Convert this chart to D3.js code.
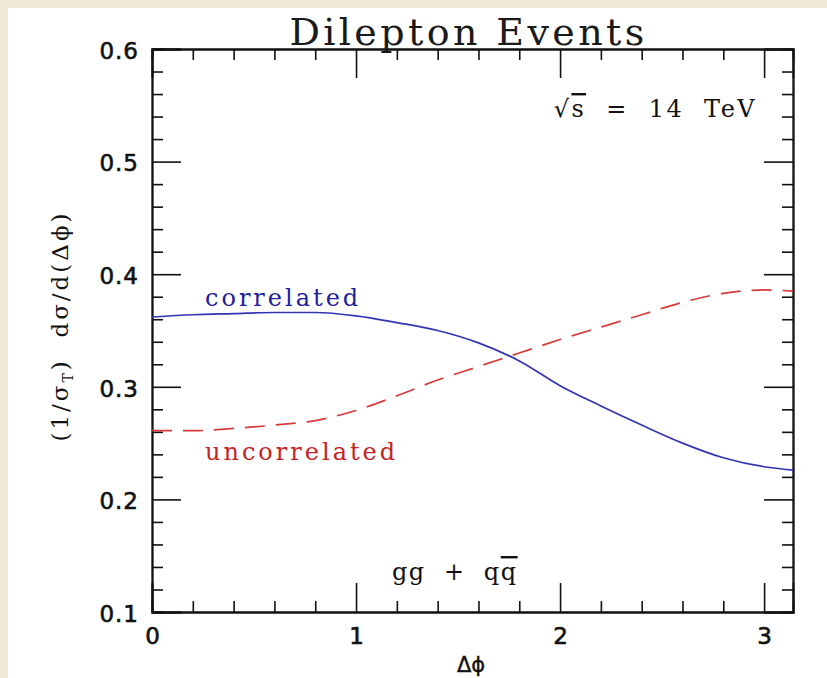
<!DOCTYPE html>
<html>
<head>
<meta charset="utf-8">
<script src="https://cdn.jsdelivr.net/npm/d3@7"></script>
<style>
  html, body { margin: 0; padding: 0; background: #efe8d6; }
  svg { display: block; }
  text { white-space: pre; }
</style>
</head>
<body>
<svg id="chart" width="827" height="678"></svg>
<script>
// Δφ sample points (radians) and normalised distributions
const phi = [0, 0.2, 0.4, 0.6, 0.8, 1.0, 1.2, 1.4, 1.6, 1.8, 2.0, 2.2, 2.4, 2.6, 2.8, 3.0, Math.PI];
const correlated = [0.362, 0.364, 0.365, 0.366, 0.366, 0.363, 0.357, 0.350, 0.339, 0.323, 0.301, 0.283, 0.266, 0.250, 0.237, 0.229, 0.226];
const uncorrelated = [0.261, 0.261, 0.263, 0.266, 0.270, 0.279, 0.292, 0.306, 0.318, 0.330, 0.342, 0.353, 0.364, 0.375, 0.383, 0.386, 0.385];

// axis ticks
const xMajor = [0, 1, 2, 3];
const xMajorLabels = ["0", "1", "2", "3"];
const yMajor = [0.1, 0.2, 0.3, 0.4, 0.5, 0.6];
const yMajorLabels = ["0.1", "0.2", "0.3", "0.4", "0.5", "0.6"];
const xMinor = d3.range(1, 16).map(i => i / 5).filter(v => Math.abs(v - Math.round(v)) > 1e-6);
const yMinor = d3.range(6, 30).map(i => i / 50).filter(v => Math.abs(v * 10 - Math.round(v * 10)) > 1e-6);

const svg = d3.select("#chart");
const W = 827, H = 678;
const m = { left: 152, right: 793, top: 49, bottom: 612 };

// page: beige frame with white sheet
svg.append("rect").attr("width", W).attr("height", H).attr("fill", "#efe8d6");
svg.append("rect").attr("x", 8).attr("y", 8).attr("width", W - 8).attr("height", H - 8).attr("fill", "#ffffff");

const x = d3.scaleLinear().domain([0, Math.PI]).range([m.left, m.right]);
const y = d3.scaleLinear().domain([0.1, 0.6]).range([m.bottom, m.top]);

const minorLen = 11, majorLen = 29;
const tickFont = "'DejaVu Sans', sans-serif";
const serif = "'DejaVu Serif', serif";

function style(g) {
  g.select(".domain").attr("stroke", "#111").attr("stroke-width", 1.8);
  g.selectAll(".tick line").attr("stroke", "#111").attr("stroke-width", 1.6);
}

// bottom axis
svg.append("g").attr("transform", `translate(0,${m.bottom})`)
  .call(d3.axisBottom(x).tickValues(xMinor).tickSize(-minorLen).tickFormat("")).call(style);
svg.append("g").attr("transform", `translate(0,${m.bottom})`)
  .call(d3.axisBottom(x).tickValues(xMajor).tickSize(-majorLen).tickPadding(16)
    .tickFormat((d, i) => xMajorLabels[i]))
  .call(style)
  .call(g => g.selectAll(".tick text").attr("font-family", tickFont).attr("font-size", 23)
    .attr("fill", "#111").attr("stroke", "#111").attr("stroke-width", 0.6));

// top axis
svg.append("g").attr("transform", `translate(0,${m.top})`)
  .call(d3.axisTop(x).tickValues(xMinor).tickSize(-minorLen).tickFormat("")).call(style);
svg.append("g").attr("transform", `translate(0,${m.top})`)
  .call(d3.axisTop(x).tickValues(xMajor).tickSize(-majorLen).tickFormat("")).call(style);

// left axis
svg.append("g").attr("transform", `translate(${m.left},0)`)
  .call(d3.axisLeft(y).tickValues(yMinor).tickSize(-minorLen).tickFormat("")).call(style);
svg.append("g").attr("transform", `translate(${m.left},0)`)
  .call(d3.axisLeft(y).tickValues(yMajor).tickSize(-majorLen).tickPadding(13)
    .tickFormat((d, i) => yMajorLabels[i]))
  .call(style)
  .call(g => g.selectAll(".tick text").attr("font-family", tickFont).attr("font-size", 23)
    .attr("letter-spacing", 1).attr("dy", "0.4em")
    .attr("fill", "#111").attr("stroke", "#111").attr("stroke-width", 0.6));

// right axis
svg.append("g").attr("transform", `translate(${m.right},0)`)
  .call(d3.axisRight(y).tickValues(yMinor).tickSize(-minorLen).tickFormat("")).call(style);
svg.append("g").attr("transform", `translate(${m.right},0)`)
  .call(d3.axisRight(y).tickValues(yMajor).tickSize(-majorLen).tickFormat("")).call(style);

// curves
const line = d3.line().x(d => x(d[0])).y(d => y(d[1])).curve(d3.curveMonotoneX);
svg.append("path").datum(phi.map((p, i) => [p, uncorrelated[i]]))
  .attr("d", line).attr("fill", "none").attr("stroke", "#d63a3a")
  .attr("stroke-width", 1.7).attr("stroke-dasharray", "20,11");
svg.append("path").datum(phi.map((p, i) => [p, correlated[i]]))
  .attr("d", line).attr("fill", "none").attr("stroke", "#3434b4")
  .attr("stroke-width", 1.7);

// title
svg.append("text").attr("x", (m.left + m.right) / 2 - 4).attr("y", 45)
  .attr("text-anchor", "middle").attr("font-family", serif).attr("font-size", 38)
  .attr("letter-spacing", 3.4).attr("fill", "#1a1a1a")
  .text("Dilepton Events");

// curve labels
svg.append("text").attr("x", 205).attr("y", 306).attr("font-family", serif)
  .attr("font-size", 24).attr("letter-spacing", 3).attr("fill", "#1f1f9c").text("correlated");
svg.append("text").attr("x", 205).attr("y", 460).attr("font-family", serif)
  .attr("font-size", 24).attr("letter-spacing", 3).attr("fill", "#c42424").text("uncorrelated");

// energy
const en = svg.append("text").attr("x", 757).attr("y", 117).attr("text-anchor", "end")
  .attr("font-family", serif).attr("font-size", 24).attr("letter-spacing", 2.4).attr("fill", "#111");
en.append("tspan").text("√");
en.append("tspan").attr("text-decoration", "overline").text("s");
en.append("tspan").text("  =  14  TeV");

// subprocesses
const sp = svg.append("text").attr("x", 392).attr("y", 580)
  .attr("font-family", serif).attr("font-size", 24).attr("letter-spacing", 1.5).attr("fill", "#111");
sp.append("tspan").text("gg  +  q");
sp.append("tspan").attr("text-decoration", "overline").text("q");

// x axis title
svg.append("text").attr("x", 471).attr("y", 672).attr("text-anchor", "middle")
  .attr("font-family", tickFont).attr("font-size", 21).attr("fill", "#111")
  .attr("stroke", "#111").attr("stroke-width", 0.4).text("Δϕ");

// y axis title
const yt = svg.append("text").attr("transform", "translate(68,326) rotate(-90)")
  .attr("text-anchor", "middle").attr("font-family", serif).attr("font-size", 23)
  .attr("letter-spacing", 3).attr("fill", "#111");
yt.append("tspan").text("(1/σ");
yt.append("tspan").attr("font-size", 14).attr("dy", 5).text("T");
yt.append("tspan").attr("dy", -5).text(")  dσ/d(Δϕ)");
</script>
</body>
</html>
